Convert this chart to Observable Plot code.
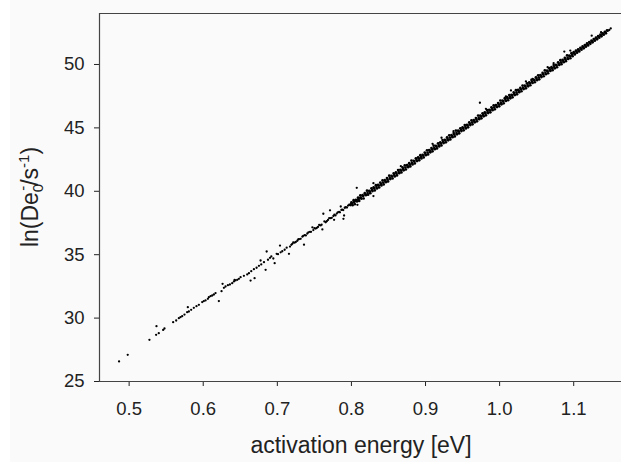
<!DOCTYPE html>
<html>
<head>
<meta charset="utf-8">
<script src="https://cdn.jsdelivr.net/npm/d3@7"></script>
<script src="https://cdn.jsdelivr.net/npm/@observablehq/plot@0.6"></script>
<style>
  html, body { margin: 0; padding: 0; }
  body { width: 621px; height: 462px; overflow: hidden;
         background: linear-gradient(to right, #ffffff 10px, #fafafa 10px); }
  #chart svg { display: block; background: transparent; }
</style>
</head>
<body>
<div id="chart"></div>
<script>
// ---- axis settings ----
const xDomain = [0.46, 1.1645];
const yDomain = [25, 54.02];
const xTicks = [0.5, 0.6, 0.7, 0.8, 0.9, 1.0, 1.1];
const yTicks = [25, 30, 35, 40, 45, 50];
const xLabel = "activation energy [eV]";

// ---- sparse low-energy points ----
const sparseE = [0.4864,0.4981,0.5274,0.5364,0.5369,0.5400,0.5459,0.5477,0.5594,0.5635,0.5671,0.5693,0.5716,0.5747,0.5783,0.5792,0.5806,0.5837,0.5873,0.5909,0.5941,0.5986,0.6008,0.6031,0.6063,0.6076,0.6099,0.6121,0.6144,0.6166,0.6211,0.6247,0.6261,0.6279,0.6301,0.6333,0.6360,0.6391,0.6414,0.6436,0.6459,0.6481,
0.6423,0.6504,0.6549,0.6594,0.6617,0.6639,0.6648,0.6684,0.6693,0.6720,0.6752,0.6774,0.6783,0.6820,0.6842,0.6856,0.6874,0.6901,0.6919,0.6946,0.6964,0.6991,0.7009,0.7036,0.7045,0.7067,0.7099,0.7126,0.7157,0.7171,0.7189,0.7202,0.7234,0.7270,0.7293,0.7338,0.7360,0.7369,0.7405,0.7441,0.7473,0.7486,0.7518,0.7549,0.7585,0.7608,0.7621,0.7653,0.7684,0.7711,0.7720,0.7757,0.7766,0.7802,0.7834,0.7856,0.7878,0.7901,0.7923,0.7955,0.7991,0.8027,0.8058,0.8090,0.8117,
0.7215,0.7250,0.7282,0.7315,0.7350,0.7385,0.7420,0.7455,0.7500,0.7532,0.7565,0.7598,0.7635,0.7668,0.7700,0.7735,0.7770,0.7785,0.7815,0.7845,0.7865,0.7890,0.7910,0.7940,0.7970,0.7985];
const sparseY = [26.58,27.10,28.29,28.68,29.36,28.81,29.07,29.18,29.68,29.81,29.99,30.07,30.15,30.28,30.47,30.86,30.52,30.65,30.81,30.94,31.05,31.26,31.34,31.39,31.52,31.65,31.73,31.78,31.86,31.97,31.34,32.12,32.70,32.39,32.49,32.60,32.65,32.75,32.89,32.97,33.02,33.10,
33.02,33.23,33.33,33.44,33.54,32.96,33.70,33.86,33.15,33.97,34.12,34.54,34.23,34.41,33.81,35.25,34.60,34.75,34.86,34.70,34.33,35.07,35.04,35.72,35.19,35.27,35.39,35.55,35.07,35.64,35.78,35.86,35.95,36.10,36.23,36.42,35.79,36.54,36.67,36.80,37.16,36.94,37.06,37.19,37.31,36.99,38.23,37.56,37.74,38.50,37.88,38.05,37.75,38.24,38.37,38.80,38.55,38.09,38.74,38.87,38.99,39.13,39.25,39.38,39.48,
35.96,36.01,36.20,36.25,36.49,36.52,36.76,36.80,37.09,37.11,37.34,37.37,37.62,37.64,37.88,37.91,38.15,38.10,38.33,38.34,38.53,38.52,38.70,38.72,38.94,38.90];

// ---- dense band, upper edge ----
const bandAE = [0.800,0.803,0.806,0.809,0.812,0.815,0.818,0.821,0.824,0.827,0.830,0.833,0.836,0.839,0.842,0.845,0.848,0.851,0.854,0.857,0.860,0.863,0.866,0.869,0.872,0.875,0.878,0.881,0.884,0.887,0.890,0.893,0.896,0.899,0.902,0.905,0.908,0.911,0.914,0.917,0.920,0.923,0.926,0.929,0.932,0.935,0.938,0.941,0.944,0.947,0.950,0.953,0.956,0.959,0.962,0.965,0.968,0.971,0.974,0.977,0.980,0.983,0.986,0.989,0.992,0.995,0.998,1.001,1.004,1.007,1.010,1.013,1.016,1.019,1.022,1.025,1.028,1.031,1.034,1.037,1.040,1.043,1.046,1.049,1.052,1.055,1.058,1.061,1.064,1.067,1.070,1.073,1.076,1.079,1.082,1.085,1.088,1.091,1.094,1.097,1.100,1.103,1.106,1.109,1.112,1.115,1.118,1.121,1.124,1.127,1.130,1.133,1.136,1.139,1.142,1.145];
const bandAY = [39.12,39.30,39.32,39.51,39.67,39.69,39.85,40.05,40.04,40.23,40.31,40.48,40.50,40.69,40.86,40.88,41.04,41.23,41.22,41.41,41.49,41.67,41.69,41.88,42.04,42.06,42.22,42.42,42.41,42.60,42.68,42.85,42.87,43.06,43.23,43.25,43.41,43.60,43.59,43.78,43.86,44.04,44.06,44.25,44.41,44.43,44.59,44.79,44.78,44.97,45.05,45.22,45.24,45.43,45.60,45.62,45.78,45.97,45.96,46.15,46.23,46.41,46.43,46.62,46.78,46.80,46.96,47.16,47.15,47.34,47.42,47.59,47.61,47.80,47.97,47.99,48.15,48.34,48.33,48.52,48.60,48.78,48.80,48.99,49.15,49.17,49.33,49.53,49.52,49.71,49.79,49.96,49.98,50.17,50.34,50.36,50.52,50.71,50.70,50.89,50.97,51.09,51.19,51.31,51.42,51.53,51.66,51.77,51.89,52.01,52.12,52.23,52.35,52.46,52.58,52.69];

// ---- dense band, centre ----
const bandCE = [0.8008,0.8038,0.8068,0.8098,0.8128,0.8158,0.8188,0.8218,0.8248,0.8278,0.8308,0.8338,0.8368,0.8398,0.8428,0.8458,0.8488,0.8518,0.8548,0.8578,0.8608,0.8638,0.8668,0.8698,0.8728,0.8758,0.8788,0.8818,0.8848,0.8878,0.8908,0.8938,0.8968,0.8998,0.9028,0.9058,0.9088,0.9118,0.9148,0.9178,0.9208,0.9238,0.9268,0.9298,0.9328,0.9358,0.9388,0.9418,0.9448,0.9478,0.9508,0.9538,0.9568,0.9598,0.9628,0.9658,0.9688,0.9718,0.9748,0.9778,0.9808,0.9838,0.9868,0.9898,0.9928,0.9958,0.9988,1.0018,1.0048,1.0078,1.0108,1.0138,1.0168,1.0198,1.0228,1.0258,1.0288,1.0318,1.0348,1.0378,1.0408,1.0438,1.0468,1.0498,1.0528,1.0558,1.0588,1.0618,1.0648,1.0678,1.0708,1.0738,1.0768,1.0798,1.0828,1.0858,1.0888,1.0918,1.0948,1.0978,1.1008,1.1038,1.1068,1.1098,1.1128,1.1158,1.1188,1.1218,1.1248,1.1278,1.1308,1.1338,1.1368,1.1398,1.1428,1.1458];
const bandCY = [39.03,39.15,39.27,39.39,39.50,39.62,39.74,39.86,39.98,40.10,40.22,40.33,40.45,40.57,40.69,40.81,40.93,41.04,41.16,41.28,41.40,41.52,41.64,41.76,41.87,41.99,42.11,42.23,42.35,42.47,42.59,42.70,42.82,42.94,43.06,43.18,43.30,43.41,43.53,43.65,43.77,43.89,44.01,44.13,44.24,44.36,44.48,44.60,44.72,44.84,44.96,45.07,45.19,45.31,45.43,45.55,45.67,45.78,45.90,46.02,46.14,46.26,46.38,46.50,46.61,46.73,46.85,46.97,47.09,47.21,47.33,47.44,47.56,47.68,47.80,47.92,48.04,48.15,48.27,48.39,48.51,48.63,48.75,48.87,48.98,49.10,49.22,49.34,49.46,49.58,49.70,49.81,49.93,50.05,50.17,50.29,50.41,50.52,50.64,50.76,50.88,51.00,51.12,51.24,51.35,51.47,51.59,51.71,51.83,51.95,52.06,52.18,52.30,52.42,52.54,52.66];

// ---- dense band, lower edge ----
const bandBE = [0.8015,0.8045,0.8075,0.8105,0.8135,0.8165,0.8195,0.8225,0.8255,0.8285,0.8315,0.8345,0.8375,0.8405,0.8435,0.8465,0.8495,0.8525,0.8555,0.8585,0.8615,0.8645,0.8675,0.8705,0.8735,0.8765,0.8795,0.8825,0.8855,0.8885,0.8915,0.8945,0.8975,0.9005,0.9035,0.9065,0.9095,0.9125,0.9155,0.9185,0.9215,0.9245,0.9275,0.9305,0.9335,0.9365,0.9395,0.9425,0.9455,0.9485,0.9515,0.9545,0.9575,0.9605,0.9635,0.9665,0.9695,0.9725,0.9755,0.9785,0.9815,0.9845,0.9875,0.9905,0.9935,0.9965,0.9995,1.0025,1.0055,1.0085,1.0115,1.0145,1.0175,1.0205,1.0235,1.0265,1.0295,1.0325,1.0355,1.0385,1.0415,1.0445,1.0475,1.0505,1.0535,1.0565,1.0595,1.0625,1.0655,1.0685,1.0715,1.0745,1.0775,1.0805,1.0835,1.0865,1.0895,1.0925,1.0955,1.0985,1.1015,1.1045,1.1075,1.1105,1.1135,1.1165,1.1195,1.1225,1.1255,1.1285,1.1315,1.1345,1.1375,1.1405,1.1435];
const bandBY = [38.90,38.98,39.20,39.24,39.41,39.43,39.69,39.73,39.85,40.02,40.07,40.22,40.30,40.46,40.54,40.72,40.78,40.96,41.01,41.17,41.25,41.43,41.49,41.65,41.72,41.90,41.96,42.12,42.20,42.38,42.44,42.59,42.67,42.85,42.91,43.07,43.15,43.32,43.38,43.54,43.62,43.80,43.86,44.02,44.09,44.27,44.33,44.49,44.57,44.75,44.81,44.96,45.04,45.22,45.28,45.44,45.52,45.69,45.75,45.91,45.99,46.17,46.23,46.39,46.46,46.64,46.70,46.86,46.94,47.12,47.18,47.33,47.41,47.59,47.65,47.81,47.89,48.06,48.12,48.28,48.36,48.54,48.60,48.76,48.83,49.01,49.07,49.23,49.31,49.49,49.55,49.70,49.78,49.96,50.02,50.18,50.26,50.43,50.49,50.65,50.79,50.93,51.03,51.16,51.27,51.40,51.50,51.63,51.75,51.87,51.98,52.11,52.22,52.35,52.46];

// ---- scattered outliers ----
const outE = [0.7892,0.8072,0.8081,0.8297,0.8297,0.8667,0.9095,0.9216,0.9378,0.9734,0.9815,1.0085,1.0153,1.0355,1.0445,1.0648,1.0729,1.0873,1.0954,1.1243,1.1369,1.1500,1.1480];
const outY = [37.83,40.27,38.93,40.64,39.62,41.98,43.74,44.22,44.74,46.98,46.50,47.48,47.95,48.66,48.87,49.79,50.10,51.02,51.10,52.27,52.55,52.84,52.72];

const toRows = (E, Y) => E.map((e, i) => ({e, v: Y[i]}));
const sparseRows = toRows([...sparseE, ...outE], [...sparseY, ...outY]);
const bandRows = toRows([...bandAE, ...bandCE, ...bandBE], [...bandAY, ...bandCY, ...bandBY]);

const frameColor = "#444";

const plot = Plot.plot({
  width: 621,
  height: 462,
  marginLeft: 99,
  marginRight: 0,
  marginTop: 13,
  marginBottom: 81,
  style: {fontFamily: "'Liberation Sans', Arial, sans-serif", fontSize: "18.5px", color: "#222", background: "transparent"},
  x: {domain: xDomain, ticks: xTicks, tickFormat: d3.format(".1f"), tickSize: 5, tickPadding: 15, label: null},
  y: {domain: yDomain, ticks: yTicks, tickSize: 5, tickPadding: 10, label: null},
  marks: [
    Plot.ruleY([yDomain[0], yDomain[1]], {stroke: frameColor, strokeWidth: 1.2}),
    Plot.ruleX([xDomain[0]], {stroke: frameColor, strokeWidth: 1.2}),
    Plot.dot(bandRows, {x: "e", y: "v", r: 1.35, fill: "#000", stroke: "none"}),
    Plot.dot(sparseRows, {x: "e", y: "v", r: 1.15, fill: "#000", stroke: "none"})
  ]
});
document.getElementById("chart").appendChild(plot);

// axis titles as real text
const svg = d3.select(plot);
svg.append("text")
  .attr("x", 361).attr("y", 453)
  .attr("text-anchor", "middle")
  .attr("font-size", 23)
  .attr("fill", "#222")
  .text(xLabel);

const yl = svg.append("text")
  .attr("transform", "translate(38,197) rotate(-90)")
  .attr("text-anchor", "middle")
  .attr("font-size", 23)
  .attr("fill", "#222");
yl.append("tspan").text("ln(De");
yl.append("tspan").attr("dy", 5).attr("font-size", 15).text("0");
yl.append("tspan").attr("dx", -7).attr("dy", -15).attr("font-size", 15).text("-");
yl.append("tspan").attr("dy", 10).text("/s");
yl.append("tspan").attr("dy", -9).attr("font-size", 15).text("-1");
yl.append("tspan").attr("dy", 9).text(")");
</script>
</body>
</html>
